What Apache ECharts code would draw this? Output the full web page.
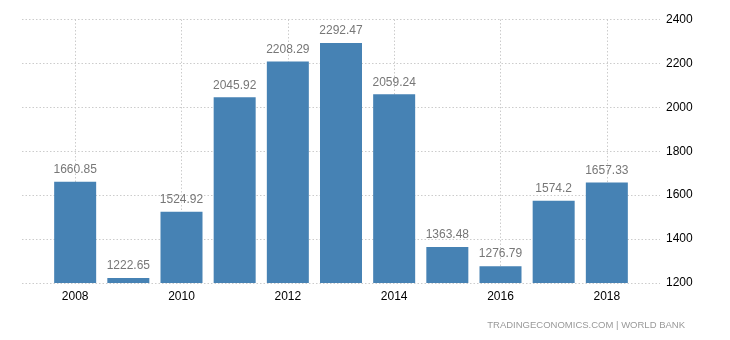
<!DOCTYPE html>
<html>
<head>
<meta charset="utf-8">
<script src="https://cdn.jsdelivr.net/npm/echarts@6/dist/echarts.min.js"></script>
<style>html,body{margin:0;padding:0;background:#fff;}#c{width:730px;height:340px;}</style>
</head>
<body>
<div id="c"></div>
<script>
var years = ['2008','2009','2010','2011','2012','2013','2014','2015','2016','2017','2018'];
var values = [1660.85, 1222.65, 1524.92, 2045.92, 2208.29, 2292.47, 2059.24, 1363.48, 1276.79, 1574.2, 1657.33];
var labeledYears = ['2008','2010','2012','2014','2016','2018'];
var yMin = 1200, yMax = 2400, yStep = 200;
var sourceText = 'TRADINGECONOMICS.COM | WORLD BANK';

// pad the category axis with empty slots on each side
var cats = [''].concat(years).concat(['']);
var seriesData = [null].concat(values).concat([null]);

var chart = echarts.init(document.getElementById('c'), null, {renderer:'canvas'});
var font = 'Liberation Sans, Arial, sans-serif';
var isLabeled = function(i, v){ return labeledYears.indexOf(v) >= 0; };
chart.setOption({
  animation: false,
  grid: {left: 22, right: 70, top: 19.5, bottom: 57, containLabel: false},
  xAxis: {
    type: 'category',
    data: cats,
    boundaryGap: false,
    axisLine: {show: false},
    axisTick: {show: false},
    axisLabel: {interval: isLabeled, color: '#000', fontFamily: font, fontSize: 12, margin: 8},
    splitLine: {show: true, interval: isLabeled, lineStyle: {color: '#cccccc', type: [1.5,2], width: 1}}
  },
  yAxis: {
    type: 'value',
    position: 'right',
    min: yMin, max: yMax, interval: yStep,
    axisLine: {show: false},
    axisTick: {show: false},
    axisLabel: {color: '#000', fontFamily: font, fontSize: 12, margin: 6, align: 'left',
      formatter: function(v){ return String(v); }},
    splitLine: {show: true, lineStyle: {color: '#cccccc', type: [1.5,2], width: 1}}
  },
  series: [{
    type: 'bar',
    data: seriesData,
    barWidth: 42,
    itemStyle: {color: '#4682b4'},
    label: {show: true, position: 'top', distance: 6, color: '#777777', fontFamily: font, fontSize: 12,
      formatter: function(p){ return p.value == null ? '' : String(p.value); }}
  }],
  graphic: [{
    type: 'text', right: 45, top: 320,
    style: {text: sourceText, fill: '#999999', font: '9.5px ' + font}
  }]
});
</script>
</body>
</html>
